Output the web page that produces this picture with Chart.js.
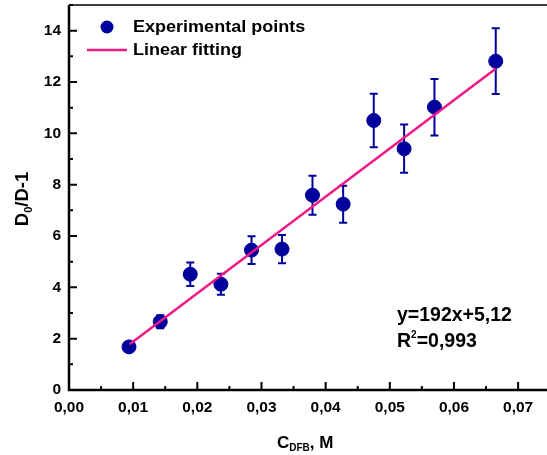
<!DOCTYPE html>
<html>
<head>
<meta charset="utf-8">
<script src="https://cdn.jsdelivr.net/npm/chart.js@4"></script>
<style>
  html, body { margin: 0; padding: 0; background: #fff; overflow: hidden; }
  canvas { display: block; }
</style>
</head>
<body>
<canvas id="myChart" width="547" height="455"></canvas>
<script>
// data
const xVals = [0.00935, 0.01422, 0.0189, 0.02368, 0.02845, 0.0332, 0.03795, 0.04273, 0.0475, 0.05223, 0.05696, 0.06651];
const yVals = [1.68, 2.66, 4.51, 4.12, 5.45, 5.49, 7.59, 7.24, 10.5, 9.40, 11.02, 12.81];
const yErr  = [0.08, 0.25, 0.46, 0.41, 0.54, 0.55, 0.76, 0.72, 1.04, 0.94, 1.10, 1.28];
const fitX = [0.00945, 0.0665];
const fitY = [1.78, 12.52];

const xTicks = [0, 0.01, 0.02, 0.03, 0.04, 0.05, 0.06, 0.07];
const xTickLabels = ['0,00', '0,01', '0,02', '0,03', '0,04', '0,05', '0,06', '0,07'];
const yTicks = [0, 2, 4, 6, 8, 10, 12, 14];
const yTickLabels = ['0', '2', '4', '6', '8', '10', '12', '14'];

const BLUE = '#00009c';
const PINK = '#ec1a86';
const FONT = '"Liberation Sans", Arial, sans-serif';

const points = xVals.map((x, i) => ({x: x, y: yVals[i]}));
const fit = fitX.map((x, i) => ({x: x, y: fitY[i]}));

// text with optional horizontal stretch, returns drawn width
function txt(ctx, s, x, y, size, stretch) {
  stretch = stretch || 1;
  ctx.font = 'bold ' + size + 'px ' + FONT;
  ctx.save();
  ctx.translate(x, y);
  ctx.scale(stretch, 1);
  ctx.fillText(s, 0, 0);
  ctx.restore();
  return ctx.measureText(s).width * stretch;
}

const errorBars = {
  id: 'errorBars',
  beforeDatasetsDraw(chart) {
    const ctx = chart.ctx, xs = chart.scales.x, ys = chart.scales.y;
    ctx.save();
    ctx.strokeStyle = BLUE;
    ctx.lineWidth = 2;
    points.forEach((p, i) => {
      const px = xs.getPixelForValue(p.x);
      const top = ys.getPixelForValue(p.y + yErr[i]);
      const bot = ys.getPixelForValue(p.y - yErr[i]);
      ctx.beginPath();
      ctx.moveTo(px, top); ctx.lineTo(px, bot);
      ctx.moveTo(px - 4, top); ctx.lineTo(px + 4, top);
      ctx.moveTo(px - 4, bot); ctx.lineTo(px + 4, bot);
      ctx.stroke();
    });
    ctx.restore();
  }
};

const frame = {
  id: 'frame',
  afterDraw(chart) {
    const ctx = chart.ctx, a = chart.chartArea, xs = chart.scales.x, ys = chart.scales.y;
    ctx.save();
    ctx.strokeStyle = '#000';
    // top border
    ctx.lineWidth = 1.5;
    ctx.beginPath(); ctx.moveTo(a.left, a.top); ctx.lineTo(a.right, a.top); ctx.stroke();
    // axes
    ctx.lineWidth = 2.5;
    ctx.beginPath();
    ctx.moveTo(a.left, a.top); ctx.lineTo(a.left, a.bottom); ctx.lineTo(a.right, a.bottom);
    ctx.stroke();
    // ticks (inward)
    ctx.lineWidth = 2;
    ctx.beginPath();
    xTicks.forEach(v => {
      const px = xs.getPixelForValue(v);
      ctx.moveTo(px, a.bottom); ctx.lineTo(px, a.bottom - 8);
      const pm = xs.getPixelForValue(v + 0.005);
      if (pm < a.right) { ctx.moveTo(pm, a.bottom); ctx.lineTo(pm, a.bottom - 4); }
    });
    yTicks.forEach(v => {
      const py = ys.getPixelForValue(v);
      ctx.moveTo(a.left, py); ctx.lineTo(a.left + 8, py);
      const pm = ys.getPixelForValue(v + 1);
      ctx.moveTo(a.left, pm); ctx.lineTo(a.left + 4, pm);
    });
    ctx.stroke();

    // tick labels
    ctx.fillStyle = '#000';
    ctx.font = 'bold 15.5px ' + FONT;
    ctx.textBaseline = 'middle';
    ctx.textAlign = 'center';
    xTicks.forEach((v, i) => ctx.fillText(xTickLabels[i], xs.getPixelForValue(v), 408));
    ctx.textAlign = 'right';
    yTicks.forEach((v, i) => ctx.fillText(yTickLabels[i], 61, ys.getPixelForValue(v)));

    // x title: C_DFB, M
    ctx.textAlign = 'left';
    ctx.textBaseline = 'alphabetic';
    let x = 277;
    x += txt(ctx, 'C', x, 448, 17);
    x += txt(ctx, 'DFB', x, 451, 10);
    txt(ctx, ', M', x, 448, 17);

    // y title: D0/D-1
    ctx.save();
    ctx.translate(28, 199);
    ctx.rotate(-Math.PI / 2);
    ctx.font = 'bold 18.5px ' + FONT;
    const w1 = ctx.measureText('D').width;
    const w3 = ctx.measureText('/D-1').width;
    ctx.font = 'bold 11px ' + FONT;
    const w2 = ctx.measureText('0').width;
    let tx = -(w1 + w2 + w3) / 2;
    tx += txt(ctx, 'D', tx, 0, 18.5);
    tx += txt(ctx, '0', tx, 4, 11);
    txt(ctx, '/D-1', tx, 0, 18.5);
    ctx.restore();

    // legend
    ctx.fillStyle = BLUE;
    ctx.beginPath(); ctx.arc(107, 27, 6.5, 0, Math.PI * 2); ctx.fill();
    ctx.strokeStyle = PINK; ctx.lineWidth = 2.5;
    ctx.beginPath(); ctx.moveTo(87, 50); ctx.lineTo(127, 50); ctx.stroke();
    ctx.fillStyle = '#000';
    ctx.textBaseline = 'middle';
    txt(ctx, 'Experimental points', 133, 27, 17, 1.06);
    txt(ctx, 'Linear fitting', 133, 50, 17, 1.06);

    // annotation
    txt(ctx, 'y=192x+5,12', 397, 316, 19.5);
    let rx = 397;
    rx += txt(ctx, 'R', rx, 342, 19.5);
    rx += txt(ctx, '2', rx, 335, 10);
    txt(ctx, '=0,993', rx, 342, 19.5);
    ctx.restore();
  }
};

const data = {
  datasets: [{
    label: 'Experimental points',
    data: points,
    backgroundColor: BLUE,
    borderColor: BLUE,
    pointRadius: 7,
    pointHoverRadius: 7,
    showLine: false,
    order: 2
  }, {
    label: 'Linear fitting',
    data: fit,
    borderColor: PINK,
    borderWidth: 2.5,
    pointRadius: 0,
    showLine: true,
    order: 1
  }]
};

const config = {
  type: 'scatter',
  data: data,
  options: {
    responsive: false,
    animation: false,
    layout: {
      autoPadding: false,
      padding: {left: 69, top: 5, right: 0, bottom: 65}
    },
    plugins: {
      legend: false,
      tooltip: {enabled: false}
    },
    scales: {
      x: {type: 'linear', min: 0, max: 0.0745, display: false},
      y: {type: 'linear', min: 0, max: 15, display: false}
    }
  },
  plugins: [errorBars, frame]
};

const myChart = new Chart(document.getElementById('myChart'), config);
</script>
</body>
</html>
